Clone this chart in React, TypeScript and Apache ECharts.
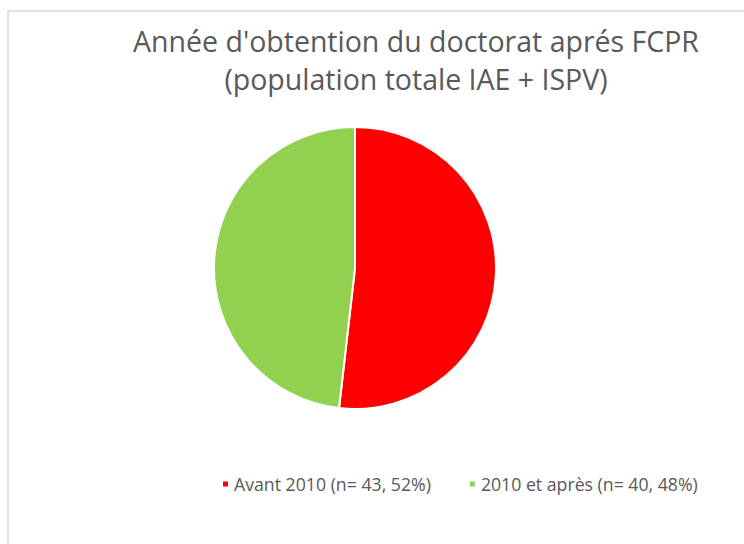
import React, { useEffect, useRef } from "react";
import * as echarts from "echarts";

const categories = ["Avant 2010 (n= 43, 52%)", "2010 et après (n= 40, 48%)"];
const counts = [43, 40];
const colors = ["#FF0000", "#92D050"];
const titleLines = ["Année d'obtention du doctorat aprés FCPR", "(population totale IAE + ISPV)"];

export default function App() {
  const ref = useRef<HTMLDivElement>(null);
  useEffect(() => {
    if (!ref.current) return;
    const chart = echarts.init(ref.current, null, { renderer: "svg" });
    chart.setOption({
      animation: false,
      backgroundColor: "#ffffff",
      textStyle: { fontFamily: "Open Sans" },
      graphic: [
        {
          type: "rect",
          shape: { x: 8, y: 11, width: 760, height: 545 },
          style: { fill: "none", stroke: "#d9d9d9", lineWidth: 1.5 },
          silent: true,
          z: -1,
        },
      ],
      title: {
        text: titleLines.join("\n"),
        left: 411,
        top: 17,
        textAlign: "center",
        textStyle: {
          fontFamily: "Open Sans",
          fontSize: 28.5,
          fontWeight: "normal",
          color: "#595959",
          lineHeight: 38,
        },
      },
      legend: {
        data: categories,
        left: 216,
        top: 470,
        icon: "rect",
        itemWidth: 7,
        itemHeight: 7,
        itemGap: 37,
        textStyle: { fontFamily: "Open Sans", fontSize: 17.7, color: "#595959" },
      },
      series: [
        {
          type: "pie",
          center: [355, 268],
          radius: 141,
          startAngle: 90,
          clockwise: true,
          label: { show: false },
          labelLine: { show: false },
          emphasis: { disabled: true },
          itemStyle: { borderColor: "#ffffff", borderWidth: 2 },
          data: categories.map((name, i) => ({
            name,
            value: counts[i],
            itemStyle: { color: colors[i] },
          })),
        },
      ],
    });
    return () => chart.dispose();
  }, []);
  return (
    <div
      ref={ref}
      style={{ position: "fixed", left: 0, top: 0, width: 744, height: 544 }}
    />
  );
}
